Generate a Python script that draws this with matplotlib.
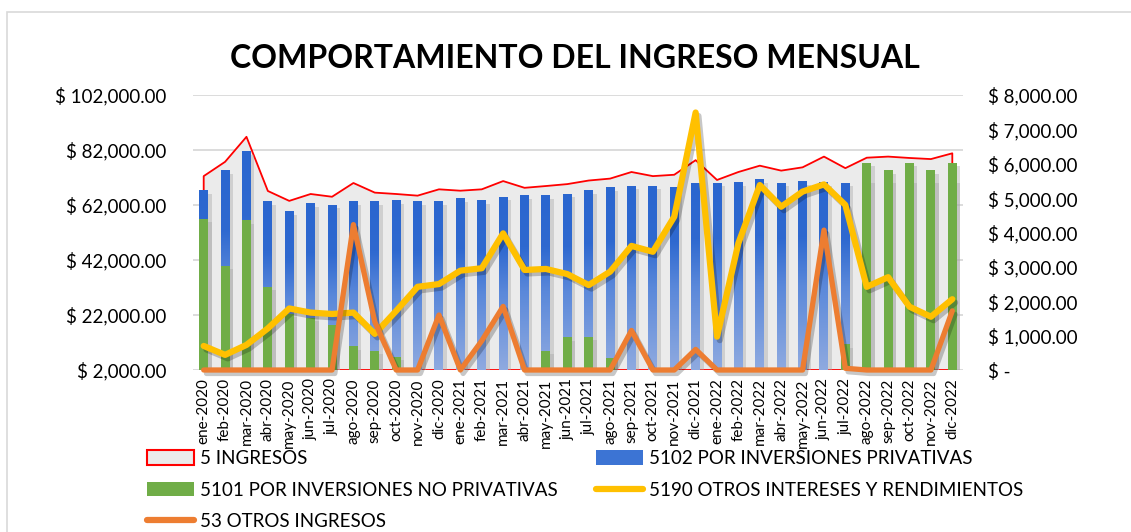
import matplotlib.pyplot as plt
import matplotlib.patheffects as pe
import numpy as np
from matplotlib.colors import LinearSegmentedColormap
from matplotlib.patches import Patch, Rectangle
from matplotlib.lines import Line2D
from matplotlib.ticker import FuncFormatter

plt.rcParams['font.family'] = ['Lato', 'DejaVu Sans']

meses = ['ene', 'feb', 'mar', 'abr', 'may', 'jun', 'jul', 'ago', 'sep', 'oct', 'nov', 'dic']
etiquetas = [f'{m}-{a}' for a in (2020, 2021, 2022) for m in meses]

# 5 INGRESOS (area, eje izquierdo)
ingresos = [72500, 77700, 86800, 67100, 63500, 66000, 65000, 70000, 66500, 66000, 65400, 67700,
            67200, 67700, 70700, 68250, 68900, 69600, 70900, 71600, 74000, 72500, 73000, 78300,
            71100, 74000, 76300, 74500, 75700, 79600, 75400, 79200, 79600, 79100, 78700, 80800]
# 5102 POR INVERSIONES PRIVATIVAS (barras azules)
privativas = [67400, 74400, 81600, 63400, 59800, 62600, 62000, 63400, 63400, 63800, 63100, 63400,
              64200, 63800, 64900, 65300, 65300, 66000, 67400, 68200, 68900, 68900, 68500, 70000,
              70000, 70300, 71100, 70000, 70700, 70300, 70000, 71300, 71300, 71300, 71300, 71300]
# 5101 POR INVERSIONES NO PRIVATIVAS (barras verdes)
no_privativas = [56900, 39900, 56500, 32300, 22500, 21000, 18400, 10700, 8900, 6800, 0, 0,
                 0, 0, 0, 0, 9000, 13900, 14100, 6400, 0, 0, 0, 0,
                 0, 0, 0, 0, 0, 0, 11400, 77300, 74700, 77300, 74700, 77300]
# 5190 OTROS INTERESES Y RENDIMIENTOS (eje derecho)
otros_intereses = [700, 440, 730, 1210, 1790, 1670, 1630, 1670, 1050, 1720, 2420, 2500,
                   2890, 2960, 3975, 2910, 2940, 2790, 2470, 2860, 3610, 3440, 4460, 7490,
                   970, 3690, 5380, 4750, 5190, 5400, 4800, 2420, 2700, 1840, 1550, 2060]
# 53 OTROS INGRESOS (eje derecho)
otros_ingresos = [0, 0, 0, 0, 0, 0, 0, 4230, 1400, 0, 0, 1600,
                  0, 850, 1850, 0, 0, 0, 0, 0, 1150, 0, 0, 600,
                  0, 0, 0, 0, 0, 4070, 50, 0, 0, 0, 0, 1720]

W, H = 1131, 532
fig = plt.figure(figsize=(W / 100, H / 100), dpi=100)
ax = fig.add_axes([193 / W, 1 - 370 / H, (963 - 193) / W, (370 - 95) / H])
ax2 = ax.twinx()

# marco del gráfico
fig.patches.append(Rectangle((7 / W, -0.05), 1.2, 1.0 - 12 / H + 0.05, transform=fig.transFigure,
                             facecolor='none', edgecolor='#D9D9D9', lw=1.2))

x = np.arange(len(etiquetas))
base = 2000

# area 5 INGRESOS
ax.fill_between(x, ingresos, base, facecolor='#EBEBEB', edgecolor='none', zorder=1)
px = np.r_[x[0], x, x[-1], x[0]]
py = np.r_[base, ingresos, base, base]
ax.plot(px, py, color='#FF0000', lw=1.3, zorder=1.5)

sombra_barra = [pe.SimplePatchShadow(offset=(2.5, -2.5), shadow_rgbFace='#A6A6A6', alpha=0.4), pe.Normal()]
w = 0.42
azules = ax.bar(x, privativas, width=w, color='#2A66CF', zorder=2, path_effects=sombra_barra)

cmap = LinearSegmentedColormap.from_list('azul', [(0, '#8FAAE0'), (0.45, '#5A88DA'),
                                                  (0.7, '#2F69D0'), (1, '#2A66CF')])
grad = np.linspace(0, 1, 256).reshape(-1, 1)
for r in azules:
    ax.imshow(grad, extent=[r.get_x(), r.get_x() + r.get_width(), base, r.get_height()],
              origin='lower', cmap=cmap, aspect='auto', zorder=2.5)

ax.bar(x, no_privativas, width=w, color='#70AD47', zorder=3, path_effects=sombra_barra)

sombra_linea = [pe.SimpleLineShadow(offset=(2, -2.5), shadow_color='k', alpha=0.22), pe.Normal()]
ax2.plot(x, otros_intereses, color='#FFC000', lw=4.5, solid_joinstyle='round',
         solid_capstyle='round', clip_on=False, path_effects=sombra_linea, zorder=3)
ax2.plot(x, otros_ingresos, color='#ED7D31', lw=3.8, solid_joinstyle='round',
         solid_capstyle='round', clip_on=False, path_effects=sombra_linea, zorder=4)

ax.set_xlim(-0.5, 35.5)
ax.set_ylim(base, 102000)
ax.set_yticks(range(base, 102001, 20000))
ax2.set_ylim(0, 8000)
ax2.set_yticks(range(0, 8001, 1000))
ax.set_xticks(x)
ax.set_xticklabels(etiquetas, rotation=90, fontsize=11)

ax.yaxis.set_major_formatter(FuncFormatter(lambda v, p: f'$ {v:,.2f}'))
ax2.yaxis.set_major_formatter(FuncFormatter(lambda v, p: '$ -' if v == 0 else f'$ {v:,.2f}'))
ax.grid(axis='y', color='#D9D9D9', lw=1.3, zorder=0)
ax.set_axisbelow(True)
for a in (ax, ax2):
    for s in a.spines.values():
        s.set_visible(False)
ax.tick_params(axis='both', length=0)
ax.tick_params(axis='y', labelsize=13.5, pad=19)
ax.tick_params(axis='x', pad=6)
ax2.tick_params(axis='y', length=0, labelsize=13.5, pad=18)

fig.text(575 / W, 1 - 58 / H, 'COMPORTAMIENTO DEL INGRESO MENSUAL', ha='center', va='center',
         fontsize=23, fontweight='bold')

h_ing = Patch(facecolor='#EBEBEB', edgecolor='#FF0000', lw=1.5)
h_priv = Patch(facecolor='#3C74D4', edgecolor='none')
h_nopriv = Patch(facecolor='#70AD47', edgecolor='none')
h_int = Line2D([], [], color='#FFC000', lw=4.5, solid_capstyle='round')
h_otr = Line2D([], [], color='#ED7D31', lw=4.5, solid_capstyle='round')

opts = dict(frameon=False, fontsize=13.5, handlelength=2.5, handleheight=0.8, handletextpad=0.35,
            labelspacing=0.78, borderpad=0, borderaxespad=0, loc='upper left')
fig.legend([h_ing, h_nopriv, h_otr],
           ['5 INGRESOS', '5101 POR INVERSIONES NO PRIVATIVAS', '53 OTROS INGRESOS'],
           bbox_to_anchor=(147 / W, 1 - 450 / H), **opts)
fig.legend([h_priv, h_int],
           ['5102 POR INVERSIONES PRIVATIVAS', '5190 OTROS INTERESES Y RENDIMIENTOS'],
           bbox_to_anchor=(596 / W, 1 - 450 / H), **opts)

fig.savefig('out.png', dpi=100)
